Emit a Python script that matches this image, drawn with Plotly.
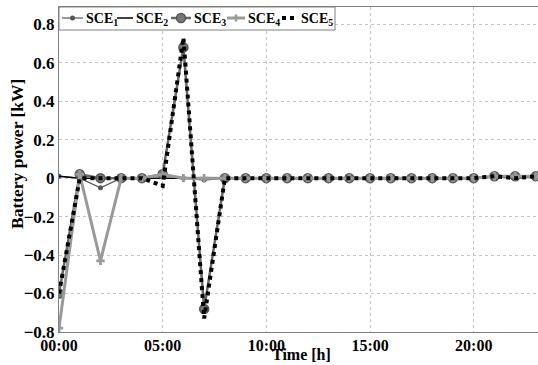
import plotly.graph_objects as go

hours = list(range(24))
sce1 = [0.01, 0.0, -0.05, 0.0, 0.0, 0.015, 0.0, -0.01, 0.0, 0.0, 0.0, 0.0, 0.0, 0.0, 0.0, 0.0, 0.0, 0.0, 0.0, 0.0, 0.0, 0.01, 0.01, 0.01]
sce2 = [0.01, 0.0, 0.0, 0.0, 0.0, 0.0, 0.0, 0.0, 0.0, 0.0, 0.0, 0.0, 0.0, 0.0, 0.0, 0.0, 0.0, 0.0, 0.0, 0.0, 0.0, 0.01, 0.0, 0.01]
sce3 = [-0.6, 0.02, 0.0, 0.0, 0.0, 0.02, 0.68, -0.68, 0.0, 0.0, 0.0, 0.0, 0.0, 0.0, 0.0, 0.0, 0.0, 0.0, 0.0, 0.0, 0.0, 0.01, 0.01, 0.01]
sce4 = [-0.78, 0.02, -0.43, 0.0, 0.0, 0.02, 0.0, 0.0, 0.0, 0.0, 0.0, 0.0, 0.0, 0.0, 0.0, 0.0, 0.0, 0.0, 0.0, 0.0, 0.0, 0.01, 0.01, 0.01]
sce5 = [-0.6, 0.0, 0.0, 0.0, 0.0, -0.04, 0.73, -0.73, 0.0, 0.0, 0.0, 0.0, 0.0, 0.0, 0.0, 0.0, 0.0, 0.0, 0.0, 0.0, 0.0, 0.01, 0.0, 0.01]
series_names = ["SCE<sub>1</sub>", "SCE<sub>2</sub>", "SCE<sub>3</sub>", "SCE<sub>4</sub>", "SCE<sub>5</sub>"]

tick_vals = [0, 5, 10, 15, 20]
tick_text = ["00:00", "05:00", "10:00", "15:00", "20:00"]
y_ticks = [-0.8, -0.6, -0.4, -0.2, 0, 0.2, 0.4, 0.6, 0.8]
y_text = ["\u22120.8", "\u22120.6", "\u22120.4", "\u22120.2", "0", "0.2", "0.4", "0.6", "0.8"]
x_title = "Time [h]"
y_title = "Battery power [kW]"

font = "Liberation Serif, DejaVu Serif, serif"

styles = [
    dict(mode="lines+markers", line=dict(color="#555555", width=1.2), marker=dict(size=5, color="#555555", symbol="circle")),
    dict(mode="lines", line=dict(color="#000000", width=1.5)),
    dict(mode="lines+markers", line=dict(color="#666666", width=2.5),
         marker=dict(size=9, color="#777777", symbol="circle", line=dict(color="#555555", width=1.5))),
    dict(mode="lines+markers", line=dict(color="#999999", width=3), marker=dict(size=7, symbol="cross", color="#999999")),
    dict(mode="lines", line=dict(color="#000000", width=4, dash="dot")),
]

fig = go.Figure()
for name, ys, st in zip(series_names, [sce1, sce2, sce3, sce4, sce5], styles):
    fig.add_trace(go.Scatter(x=hours, y=ys, name=name, showlegend=False, **st))

axis_common = dict(showline=True, linecolor="#808080", linewidth=1, mirror=True,
                   showgrid=True, gridcolor="#c4c4c4", griddash="dot", gridwidth=1,
                   zeroline=False, ticks="", automargin=False)

# ---- manual compact legend (layout only) ----
L, W, T, H = 59, 479, 7, 325
def px(x):
    return (x - L) / W
def py(y):
    return (T + H - y) / H

shapes = [dict(type="rect", xref="paper", yref="paper", x0=px(59), x1=px(335), y0=py(30), y1=py(7),
               line=dict(color="#808080", width=1), fillcolor="white", layer="above")]
annotations = []
legend_slots = [(62, 83), (117, 133), (171, 191), (227, 245), (282, 298)]
ly = 18
for (a, b), name, st in zip(legend_slots, series_names, styles):
    ln = st["line"]
    shapes.append(dict(type="line", xref="paper", yref="paper", x0=px(a), x1=px(b), y0=py(ly), y1=py(ly),
                       line=dict(color=ln["color"], width=ln["width"], dash=ln.get("dash", "solid")), layer="above"))
    mk = st.get("marker")
    if mk:
        cx = px((a + b) / 2)
        r = mk["size"] / 2
        if mk["symbol"] == "circle":
            edge = mk.get("line", {})
            shapes.append(dict(type="circle", xref="paper", yref="paper", xsizemode="pixel", ysizemode="pixel",
                               xanchor=cx, yanchor=py(ly), x0=-r, x1=r, y0=-r, y1=r,
                               fillcolor=mk["color"], line=dict(color=edge.get("color", mk["color"]), width=edge.get("width", 0)),
                               layer="above"))
        else:
            shapes.append(dict(type="line", xref="paper", yref="paper", xsizemode="pixel", ysizemode="pixel",
                               xanchor=cx, yanchor=py(ly), x0=0, x1=0, y0=-r, y1=r,
                               line=dict(color=mk["color"], width=2.5), layer="above"))
    annotations.append(dict(text=f"<b>{name}</b>", xref="paper", yref="paper", x=px(b + 1), y=py(ly + 1),
                            xanchor="left", yanchor="middle", showarrow=False,
                            font=dict(family=font, size=14, color="black")))

# axis titles as annotations positioned like the reference
annotations.append(dict(text=f"<b>{x_title}</b>", xref="paper", yref="paper", x=px(301), y=py(365),
                        xanchor="center", yanchor="bottom", showarrow=False,
                        font=dict(family=font, size=16, color="black")))
annotations.append(dict(text=f"<b>{y_title}</b>", xref="paper", yref="paper", x=px(17), y=py(154),
                        xanchor="center", yanchor="middle", showarrow=False, textangle=-90,
                        font=dict(family=font, size=17.5, color="black")))

fig.update_layout(
    width=538, height=365,
    margin=dict(l=L, r=0, t=T, b=365 - T - H),
    plot_bgcolor="white", paper_bgcolor="white",
    font=dict(family=font, color="black"),
    xaxis=dict(range=[0, 23.1], tickvals=tick_vals, ticktext=[f"<b>{t}</b>" for t in tick_text],
               tickfont=dict(family=font, size=16, color="black"), ticklabelstandoff=-1,
               **axis_common),
    yaxis=dict(range=[-0.8, 0.89], tickvals=y_ticks, ticktext=[f"<b>{t}</b>" for t in y_text],
               tickfont=dict(family=font, size=17, color="black"),
               **axis_common),
    shapes=shapes,
    annotations=annotations,
    showlegend=False,
)

fig.write_html("out.html")
